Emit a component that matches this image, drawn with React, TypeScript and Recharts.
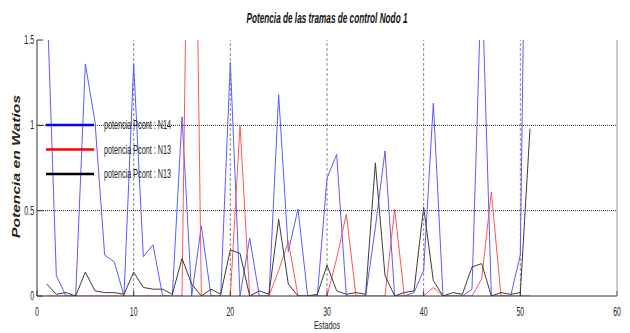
import React from 'react';
import { LineChart, Line, XAxis, YAxis, ReferenceLine, Legend } from 'recharts';

const estados = [1, 2, 3, 4, 5, 6, 7, 8, 9, 10, 11, 12, 13, 14, 15, 16, 17, 18, 19, 20, 21, 22, 23, 24, 25, 26, 27, 28, 29, 30, 31, 32, 33, 34, 35, 36, 37, 38, 39, 40, 41, 42, 43, 44, 45, 46, 47, 48, 49, 50, 51];

const potenciaN14 = [1.8, 0.12, 0, 0, 1.36, 1.02, 0.24, 0.2, 0, 1.36, 0.23, 0.3, 0, 0, 1.05, 0, 0.41, 0, 0, 1.37, 0, 0.34, 0, 0, 1.18, 0.26, 0.51, 0, 0, 0.69, 0.83, 0, 0, 0, 0.4, 0.85, 0, 0, 0.02, 0.15, 1.13, 0, 0, 0, 0.04, 1.9, 0, 0, 0, 0.24, 4.5];

const potenciaN13Rojo = [0, 0, 0, 0, 0, 0, 0, 0, 0, 0, 0, 0, 0, 0, 0, 4.2, 0, 0, 0, 0, 1.0, 0, 0, 0, 0.15, 0.32, 0, 0, 0, 0, 0.22, 0.48, 0, 0, 0, 0, 0.51, 0, 0, 0, 0.05, 0, 0, 0, 0, 0.1, 0.61, 0, 0, 0, 0];

const potenciaN13Negro = [0.07, 0.01, 0.02, 0, 0.14, 0.03, 0.02, 0.02, 0.01, 0.14, 0.05, 0.04, 0.04, 0.01, 0.22, 0.07, 0, 0.04, 0.01, 0.27, 0.25, 0, 0.03, 0.01, 0.45, 0.07, 0, 0, 0.01, 0.18, 0.03, 0.01, 0.02, 0.01, 0.78, 0.12, 0, 0.02, 0.03, 0.52, 0.09, 0, 0.02, 0.01, 0.17, 0.19, 0, 0.02, 0.01, 0.02, 0.98];

const xTicks = [0, 10, 20, 30, 40, 50, 60];
const yTicks = [0, 0.5, 1, 1.5];
const xGrid = [10, 20, 30, 40, 50];
const yGrid = [0.5, 1];

const seriesNames = ['potencia Pcont : N14', 'potencia Pcont : N13', 'potencia Pcont : N13'];
const lineColors = ['#5b5bff', '#ff5656', '#3c3c3c'];
const legendColors = ['#0000ff', '#ff0000', '#000000'];

const titleText = 'Potencia de las tramas de control Nodo 1';
const xLabelText = 'Estados';
const yLabelText = 'Potencia en Watios';

const data = estados.map((e, i) => ({
  x: e,
  n14: potenciaN14[i],
  n13r: potenciaN13Rojo[i],
  n13k: potenciaN13Negro[i],
}));

const FONT = "'Liberation Sans', Arial, sans-serif";

const XTick = (props: any) => {
  const { x, y, payload } = props;
  return (
    <g transform={`translate(${x},${y + 25}) scale(0.58,1)`}>
      <text x={0} y={0} textAnchor="middle" fontSize={12} fontFamily={FONT} fill="#222">
        {payload.value}
      </text>
    </g>
  );
};

const YTick = (props: any) => {
  const { x, y, payload } = props;
  return (
    <g transform={`translate(${x - 9},${y + 4}) scale(0.58,1)`}>
      <text x={0} y={0} textAnchor="end" fontSize={12} fontFamily={FONT} fill="#222">
        {payload.value}
      </text>
    </g>
  );
};

const EmptyTick = () => <g />;

const renderLegend = () => (
  <svg width={150} height={70} style={{ display: 'block', overflow: 'visible' }}>
    {seriesNames.map((name, i) => {
      const cy = 8 + i * 24.5;
      return (
        <g key={i}>
          <line x1={0} x2={48} y1={cy} y2={cy} stroke={legendColors[i]} strokeWidth={2.5} />
          <text
            x={58}
            y={cy + 4}
            fontSize={12}
            fontFamily={FONT}
            fill="#222"
            textLength={67}
            lengthAdjust="spacingAndGlyphs"
          >
            {name}
          </text>
        </g>
      );
    })}
  </svg>
);

export default function App() {
  return (
    <div style={{ position: 'absolute', left: 0, top: 0, width: 630, height: 333, background: '#fff' }}>
      <LineChart
        width={630}
        height={333}
        data={data}
        margin={{ top: 40, right: 12, left: 7, bottom: 7 }}
      >
        <XAxis
          xAxisId="b"
          dataKey="x"
          type="number"
          domain={[0, 60]}
          ticks={xTicks}
          height={30}
          allowDataOverflow
          axisLine={{ stroke: '#333' }}
          tickLine={{ stroke: '#333' }}
          tickSize={-5}
          tickMargin={0}
          tick={<XTick />}
          interval={0}
        />
        <XAxis
          xAxisId="t"
          orientation="top"
          dataKey="x"
          type="number"
          domain={[0, 60]}
          ticks={xTicks}
          height={0}
          axisLine={{ stroke: '#333' }}
          tickLine={{ stroke: '#333' }}
          tickSize={-5}
          tickMargin={0}
          tick={<EmptyTick />}
          interval={0}
        />
        <YAxis
          yAxisId="l"
          type="number"
          domain={[0, 1.5]}
          ticks={yTicks}
          width={30}
          allowDataOverflow
          axisLine={{ stroke: '#333' }}
          tickLine={{ stroke: '#333' }}
          tickSize={-6}
          tickMargin={0}
          tick={<YTick />}
          interval={0}
        />
        <YAxis
          yAxisId="r"
          orientation="right"
          type="number"
          domain={[0, 1.5]}
          ticks={yTicks}
          width={1}
          axisLine={{ stroke: '#999' }}
          tickLine={{ stroke: '#333' }}
          tickSize={-5}
          tickMargin={0}
          tick={<EmptyTick />}
          interval={0}
        />
        {xGrid.map((v) => (
          <ReferenceLine
            key={'gx' + v}
            xAxisId="b"
            yAxisId="l"
            x={v}
            stroke="#8a8a8a"
            strokeDasharray="3 2"
            strokeWidth={1}
          />
        ))}
        {yGrid.map((v) => (
          <ReferenceLine
            key={'gy' + v}
            xAxisId="b"
            yAxisId="l"
            y={v}
            stroke="#222"
            strokeDasharray="1 1"
            strokeWidth={1}
          />
        ))}
        <Line
          xAxisId="b"
          yAxisId="l"
          type="linear"
          dataKey="n14"
          name={seriesNames[0]}
          stroke={lineColors[0]}
          strokeWidth={1}
          dot={false}
          isAnimationActive={false}
        />
        <Line
          xAxisId="b"
          yAxisId="l"
          type="linear"
          dataKey="n13r"
          name={seriesNames[1]}
          stroke={lineColors[1]}
          strokeWidth={1}
          dot={false}
          isAnimationActive={false}
        />
        <Line
          xAxisId="b"
          yAxisId="l"
          type="linear"
          dataKey="n13k"
          name={seriesNames[2]}
          stroke={lineColors[2]}
          strokeWidth={1}
          dot={false}
          isAnimationActive={false}
        />
        <Legend
          layout="vertical"
          align="center"
          verticalAlign="middle"
          content={renderLegend}
          wrapperStyle={{ left: 46, top: 117, width: 150, height: 70 }}
        />
      </LineChart>
      <svg
        width={630}
        height={333}
        style={{ position: 'absolute', left: 0, top: 0, pointerEvents: 'none' }}
      >
        <text
          x={327}
          y={23}
          textAnchor="middle"
          fontSize={14}
          fontWeight="bold"
          fontStyle="italic"
          fontFamily={FONT}
          fill="#111"
          textLength={161}
          lengthAdjust="spacingAndGlyphs"
        >
          {titleText}
        </text>
        <text
          x={327}
          y={329}
          textAnchor="middle"
          fontSize={11}
          fontFamily={FONT}
          fill="#222"
          textLength={26}
          lengthAdjust="spacingAndGlyphs"
        >
          {xLabelText}
        </text>
        <text
          transform="translate(20,166.5) rotate(-90)"
          x={0}
          y={0}
          textAnchor="middle"
          fontSize={11}
          fontWeight="bold"
          fontStyle="italic"
          fontFamily={FONT}
          fill="#2a1f14"
          textLength={143}
          lengthAdjust="spacingAndGlyphs"
        >
          {yLabelText}
        </text>
      </svg>
    </div>
  );
}
